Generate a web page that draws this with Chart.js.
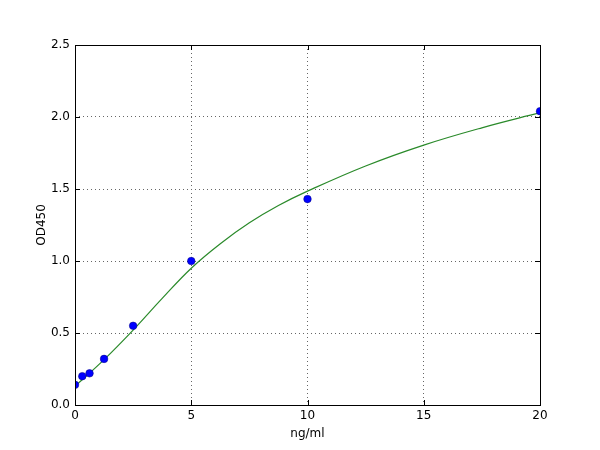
<!DOCTYPE html>
<html><head><meta charset="utf-8">
<script src="https://cdn.jsdelivr.net/npm/chart.js@4"></script>
<style>html,body{margin:0;padding:0;background:#fff}#wrap{width:600px;height:450px}</style>
</head><body><div id="wrap"><canvas id="c" width="600" height="450"></canvas></div>
<script>
const concX = [0, 0.3125, 0.625, 1.25, 2.5, 5, 10, 20];
const odY = [0.14, 0.20, 0.22, 0.32, 0.55, 1.00, 1.43, 2.04];
const fitX = [0, 1.25, 2.5, 3.75, 5, 6.25, 7.5, 8.75, 10, 12.5, 15, 17.5, 20];
const fitY = [0.13, 0.315, 0.52, 0.74, 0.95, 1.12, 1.265, 1.385, 1.485, 1.66, 1.805, 1.925, 2.03];
const xTicks = [0, 5, 10, 15, 20];
const yTicks = [0, 0.5, 1.0, 1.5, 2.0, 2.5];

const FONT = "'DejaVu Sans', sans-serif";
const tickPlugin = {
  id: 'mplTicks',
  afterDraw(chart) {
    const {ctx, chartArea: a, scales: {x, y}} = chart;
    ctx.save();
    ctx.strokeStyle = '#000';
    ctx.lineWidth = 1;
    ctx.beginPath();
    xTicks.forEach(v => {
      const px = Math.round(x.getPixelForValue(v)) + 0.5;
      ctx.moveTo(px, a.bottom); ctx.lineTo(px, a.bottom - 5);
      ctx.moveTo(px, a.top); ctx.lineTo(px, a.top + 5);
    });
    yTicks.forEach(v => {
      const py = Math.round(y.getPixelForValue(v)) + 0.5;
      ctx.moveTo(a.left, py); ctx.lineTo(a.left + 5, py);
      ctx.moveTo(a.right, py); ctx.lineTo(a.right - 5, py);
    });
    ctx.stroke();
    ctx.strokeRect(a.left + 0.5, a.top + 0.5, a.right - a.left, a.bottom - a.top);
    ctx.restore();
  }
};

new Chart(document.getElementById('c'), {
  type: 'scatter',
  data: {
    datasets: [
      {
        type: 'line',
        data: fitX.map((v, i) => ({x: v, y: fitY[i]})),
        borderColor: '#2a8a2a',
        borderWidth: 1.2,
        pointRadius: 0,
        tension: 0.4,
        fill: false,
        order: 2
      },
      {
        data: concX.map((v, i) => ({x: v, y: odY[i]})),
        backgroundColor: '#0000ff',
        borderColor: '#000080',
        borderWidth: 0.5,
        pointRadius: 3.8,
        clip: 0,
        order: 1
      }
    ]
  },
  options: {
    responsive: false,
    animation: false,
    devicePixelRatio: 1,
    layout: {padding: {top: 45, right: 60, left: 31, bottom: 5}},
    plugins: {legend: {display: false}, tooltip: {enabled: false}},
    scales: {
      x: {
        type: 'linear', min: 0, max: 20,
        afterBuildTicks: s => { s.ticks = xTicks.map(v => ({value: v})); },
        afterFit: s => { s.height = 40; },
        border: {display: false, dash: [1, 3]},
        grid: {color: '#666', lineWidth: 1, drawTicks: false},
        ticks: {color: '#000', font: {family: FONT, size: 12}, padding: 4},
        title: {display: true, text: 'ng/ml', color: '#000', font: {family: FONT, size: 12}, padding: {top: 2}}
      },
      y: {
        type: 'linear', min: 0, max: 2.5,
        afterBuildTicks: s => { s.ticks = yTicks.map(v => ({value: v})); },
        afterFit: s => { s.width = 44; },
        border: {display: false, dash: [1, 3]},
        grid: {color: '#666', lineWidth: 1, drawTicks: false},
        ticks: {color: '#000', font: {family: FONT, size: 12}, padding: 5, callback: v => v.toFixed(1)},
        title: {display: true, text: 'OD450', color: '#000', font: {family: FONT, size: 12}, padding: {bottom: 4}}
      }
    }
  },
  plugins: [tickPlugin]
});
</script>
</body></html>
